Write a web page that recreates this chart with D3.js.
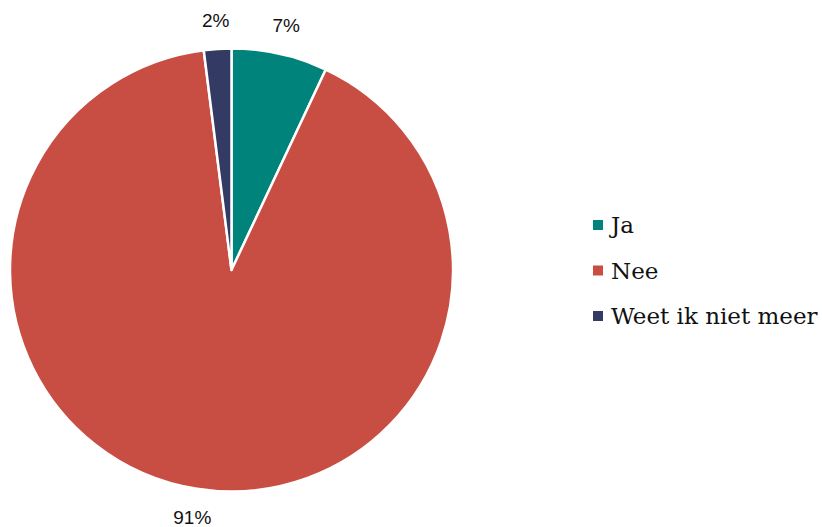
<!DOCTYPE html>
<html>
<head>
<meta charset="utf-8">
<script src="https://cdn.jsdelivr.net/npm/d3@7"></script>
<style>
  body { margin: 0; background: #fff; }
</style>
</head>
<body>
<div id="chart"></div>
<script>
var categories = ["Ja", "Nee", "Weet ik niet meer"];
var values = [7, 91, 2];
var labels = ["7%", "91%", "2%"];
var colors = ["#00837a", "#c84d43", "#333a63"];

var width = 822, height = 527;
var cx = 231.5, cy = 270, radius = 221.5;

var svg = d3.select("#chart").append("svg")
    .attr("width", width)
    .attr("height", height);

var pie = d3.pie().sort(null).value(function(d) { return d; });
var arcs = pie(values);

var arc = d3.arc().innerRadius(0).outerRadius(radius);
var labelArc = d3.arc().innerRadius(radius + 29).outerRadius(radius + 29);

var g = svg.append("g")
    .attr("transform", "translate(" + cx + "," + cy + ")");

g.selectAll("path")
    .data(arcs)
    .enter()
    .append("path")
    .attr("d", arc)
    .attr("fill", function(d, i) { return colors[i]; })
    .attr("stroke", "#fff")
    .attr("stroke-width", 2.5)
    .attr("stroke-linejoin", "round");

g.selectAll("text")
    .data(arcs)
    .enter()
    .append("text")
    .attr("transform", function(d) {
        return "translate(" + labelArc.centroid(d) + ")";
    })
    .attr("text-anchor", "middle")
    .attr("dy", "0.35em")
    .attr("font-family", "'Liberation Sans', Arial, sans-serif")
    .attr("font-size", 19)
    .attr("fill", "#111")
    .text(function(d, i) { return labels[i]; });

// legend
var legend = svg.append("g")
    .attr("transform", "translate(593,225)");

var item = legend.selectAll("g")
    .data(categories)
    .enter()
    .append("g")
    .attr("transform", function(d, i) { return "translate(0," + (i * 45.5) + ")"; });

item.append("rect")
    .attr("x", 0)
    .attr("y", -5)
    .attr("width", 10)
    .attr("height", 10)
    .attr("fill", function(d, i) { return colors[i]; });

item.append("text")
    .attr("x", 18)
    .attr("dy", "0.35em")
    .attr("font-family", "'DejaVu Serif', serif")
    .attr("font-size", 23)
    .attr("fill", "#111")
    .text(function(d) { return d; });
</script>
</body>
</html>
